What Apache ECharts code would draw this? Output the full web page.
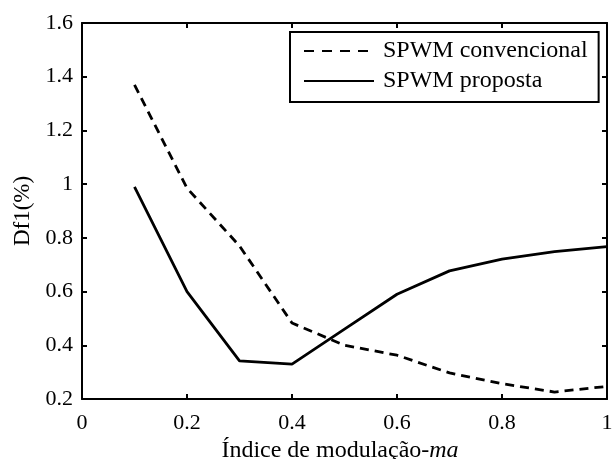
<!DOCTYPE html>
<html>
<head>
<meta charset="utf-8">
<script src="https://cdn.jsdelivr.net/npm/echarts@6/dist/echarts.min.js"></script>
<style>html,body{margin:0;padding:0;background:#fff}#c{width:613px;height:459px}</style>
</head>
<body>
<div id="c"></div>
<script>
var xValues = [0.1, 0.2, 0.3, 0.4, 0.5, 0.6, 0.7, 0.8, 0.9, 1.0];
var convencional = [1.37, 0.985, 0.77, 0.483, 0.40, 0.363, 0.297, 0.257, 0.226, 0.247];
var proposta = [0.99, 0.60, 0.342, 0.330, 0.46, 0.59, 0.677, 0.721, 0.749, 0.767];
var xTicks = [0, 0.2, 0.4, 0.6, 0.8, 1];
var yTicks = [0.2, 0.4, 0.6, 0.8, 1, 1.2, 1.4, 1.6];
var seriesNames = ['SPWM convencional', 'SPWM proposta'];

var FONT = 'Liberation Serif';
function pairs(xs, ys){ return xs.map(function(x,i){return [x, ys[i]];}); }

var chart = echarts.init(document.getElementById('c'));
var axisLine = {show:true, onZero:false, lineStyle:{color:'#000', width:2}};
var axisTick = {show:true, inside:true, length:5, lineStyle:{color:'#000', width:2}};
chart.setOption({
  animation:false,
  backgroundColor:'#fff',
  grid:{left:82, right:6, top:23, bottom:60, containLabel:false, outerBoundsMode:'none'},
  xAxis:[{
    type:'value', min:0, max:1, interval:0.2, position:'bottom',
    axisLine:axisLine, axisTick:axisTick, splitLine:{show:false},
    axisLabel:{color:'#000', fontFamily:FONT, fontSize:22, margin:13,
      formatter:function(v){ var r=Math.round(v*10)/10; return xTicks.indexOf(r) >= 0 ? String(r) : ''; }},
    name:'Índice de modulação-{i|ma}', nameLocation:'middle', nameGap:37,
    nameTextStyle:{color:'#000', fontFamily:FONT, fontSize:24, padding:[0,9,0,0],
      rich:{i:{fontStyle:'italic', fontFamily:FONT, fontSize:24, color:'#000'}}}
  },{
    type:'value', min:0, max:1, interval:0.2, position:'top',
    axisLine:axisLine, axisTick:axisTick, axisLabel:{show:false}, splitLine:{show:false}
  }],
  yAxis:[{
    type:'value', min:0.2, max:1.6, interval:0.2, position:'left',
    axisLine:axisLine, axisTick:axisTick, splitLine:{show:false},
    axisLabel:{color:'#000', fontFamily:FONT, fontSize:22, margin:9,
      formatter:function(v){ var r=Math.round(v*10)/10; return yTicks.indexOf(r)>=0 ? String(r) : ''; }},
    name:'Df1(%)', nameLocation:'middle', nameGap:48, nameRotate:90,
    nameTextStyle:{color:'#000', fontFamily:FONT, fontSize:23}
  },{
    type:'value', min:0.2, max:1.6, interval:0.2, position:'right',
    axisLine:axisLine, axisTick:axisTick, axisLabel:{show:false}, splitLine:{show:false}
  }],
  legend:{
    left:290, top:32, orient:'vertical',
    backgroundColor:'#fff', borderColor:'#000', borderWidth:2,
    padding:[7, 11, 9, 13], itemGap:6, itemWidth:70, itemHeight:24,
    itemStyle:{opacity:0},
    textStyle:{color:'#000', fontFamily:FONT, fontSize:24, padding:[0,0,0,4]},
    data:[{name:seriesNames[0], lineStyle:{type:[10,8]}}, {name:seriesNames[1]}]
  },
  series:[{
    name:seriesNames[0], type:'line', data:pairs(xValues, convencional),
    symbol:'none', lineStyle:{color:'#000', width:2.8, type:[9,6]}, itemStyle:{color:'#000'}
  },{
    name:seriesNames[1], type:'line', data:pairs(xValues, proposta),
    symbol:'none', lineStyle:{color:'#000', width:2.8, type:'solid'}, itemStyle:{color:'#000'}
  }]
});
</script>
</body>
</html>
